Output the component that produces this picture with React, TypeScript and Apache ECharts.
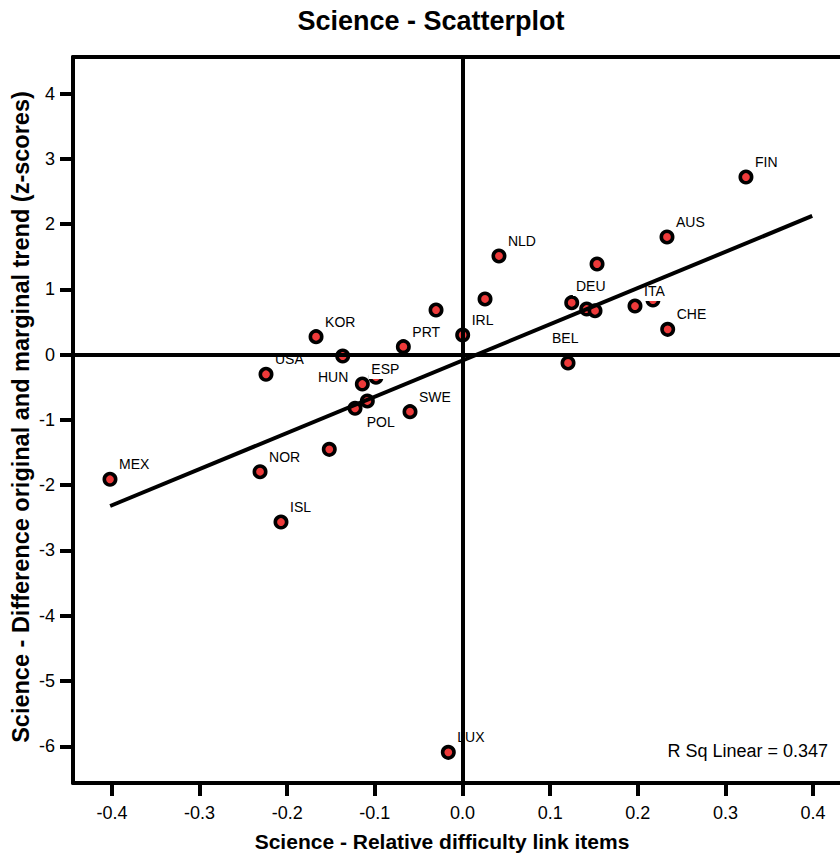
import React, { useEffect, useRef } from 'react';
import * as echarts from 'echarts';

// ---- data ----
const countries = ['FIN', 'AUS', 'NLD', '', 'DEU', '', '', 'ITA', '', 'CHE', 'BEL', '', 'IRL', '', 'PRT', 'KOR', 'HUN', 'USA', 'ESP', '', '', 'POL', 'SWE', '', 'MEX', 'NOR', 'ISL', 'LUX'];
const xValues = [0.3234, 0.2333, 0.0416, 0.1535, 0.1246, 0.1417, 0.1512, 0.1968, 0.2173, 0.2341, 0.1204, 0.0257, 0.0002, -0.0302, -0.0675, -0.1671, -0.1367, -0.2242, -0.1143, -0.0987, -0.1086, -0.1226, -0.0599, -0.152, -0.4022, -0.231, -0.2071, -0.0162];
const yValues = [2.723, 1.804, 1.513, 1.39, 0.797, 0.7, 0.674, 0.746, 0.838, 0.389, -0.127, 0.854, 0.302, 0.685, 0.123, 0.276, -0.02, -0.3, -0.449, -0.345, -0.709, -0.821, -0.873, -1.45, -1.909, -1.793, -2.564, -6.093];
const fitX = [-0.402, 0.399];
const fitY = [-2.318, 2.126];
const xTicks = [-0.4, -0.3, -0.2, -0.1, 0, 0.1, 0.2, 0.3, 0.4];
const yTicks = [-6, -5, -4, -3, -2, -1, 0, 1, 2, 3, 4];
const rSquared = 0.347;
const titleText = 'Science - Scatterplot';
const xTitle = 'Science - Relative difficulty link items';
const yTitle = 'Science - Difference original and marginal trend (z-scores)';

// label placement (styling), default upper-right of marker
const defaultOffset: [number, number] = [9, -15];
const labelOffsets: Record<string, [number, number]> = {
  HUN: [-24.7, 21],
  POL: [11.7, 14],
  BEL: [-16, -25],
  DEU: [4.3, -16.7],
};
const LABEL_PAD = 3;

const FONT = '"Liberation Sans", Arial, Helvetica, sans-serif';
const X_MIN = -0.4444;
const X_MAX = 0.4307;
const Y_MIN = -6.563;
const Y_MAX = 4.562;

export default function App() {
  const ref = useRef<HTMLDivElement>(null);
  useEffect(() => {
    if (!ref.current) return;
    const chart = echarts.init(ref.current, undefined, { renderer: 'svg' });
    const points = xValues.map((x, i) => [x, yValues[i]]);
    const labelIdx = countries.map((n, i) => i).filter((i) => countries[i] !== '');
    const labelData = labelIdx.map((i) => ({ name: countries[i], value: [xValues[i], yValues[i]] }));

    chart.setOption({
      animation: false,
      textStyle: { fontFamily: FONT },
      grid: { left: 73, top: 57, right: 0, bottom: 73, show: false },
      xAxis: [
        {
          type: 'value',
          min: X_MIN,
          max: X_MAX,
          splitLine: { show: false },
          axisLine: { onZero: false, lineStyle: { color: '#000', width: 4 } },
          axisTick: { customValues: xTicks, length: 13, lineStyle: { color: '#000', width: 4 } },
          axisLabel: {
            customValues: xTicks,
            formatter: (v: number) => v.toFixed(1),
            color: '#000',
            fontSize: 18,
            fontFamily: FONT,
            margin: 21,
          },
        },
        {
          type: 'value',
          position: 'top',
          min: X_MIN,
          max: X_MAX,
          splitLine: { show: false },
          axisLine: { onZero: false, lineStyle: { color: '#000', width: 4 } },
          axisTick: { show: false },
          axisLabel: { show: false },
        },
      ],
      yAxis: {
        type: 'value',
        min: Y_MIN,
        max: Y_MAX,
        splitLine: { show: false },
        axisLine: { onZero: false, lineStyle: { color: '#000', width: 4 } },
        axisTick: { customValues: yTicks, length: 13, lineStyle: { color: '#000', width: 4 } },
        axisLabel: {
          customValues: yTicks,
          formatter: (v: number) => String(Math.round(v)),
          color: '#000',
          fontSize: 18,
          fontFamily: FONT,
          margin: 18,
        },
      },
      graphic: [
        {
          type: 'text',
          x: 431,
          y: 21,
          style: {
            text: titleText,
            font: `bold 27px ${FONT}`,
            fill: '#000',
            textAlign: 'center',
            textVerticalAlign: 'middle',
          },
        },
        {
          type: 'text',
          x: 442,
          y: 841,
          style: {
            text: xTitle,
            font: `bold 21px ${FONT}`,
            fill: '#000',
            textAlign: 'center',
            textVerticalAlign: 'middle',
          },
        },
        {
          type: 'text',
          x: 21,
          y: 417,
          rotation: Math.PI / 2,
          style: {
            text: yTitle,
            font: `bold 23.5px ${FONT}`,
            fill: '#000',
            textAlign: 'center',
            textVerticalAlign: 'middle',
          },
        },
        {
          type: 'text',
          x: 828,
          y: 751,
          style: {
            text: `R Sq Linear = ${rSquared.toFixed(3)}`,
            font: `18px ${FONT}`,
            fill: '#000',
            textAlign: 'right',
            textVerticalAlign: 'middle',
          },
        },
      ],
      series: [
        {
          type: 'scatter',
          z: 2,
          silent: true,
          data: points,
          symbol: 'circle',
          symbolSize: 11.4,
          itemStyle: { color: '#ee3a3a', borderColor: '#000', borderWidth: 3.6, opacity: 1 },
        },
        {
          type: 'custom',
          z: 3,
          silent: true,
          data: labelData,
          encode: { x: 0, y: 1 },
          renderItem: (params: any, api: any) => {
            const name = labelData[params.dataIndex].name;
            const off = labelOffsets[name] || defaultOffset;
            const p = api.coord([api.value(0), api.value(1)]);
            return {
              type: 'text',
              x: p[0] + off[0] - LABEL_PAD,
              y: p[1] + off[1],
              style: {
                text: name,
                fill: '#000',
                font: `14px ${FONT}`,
                align: 'left',
                verticalAlign: 'middle',
                backgroundColor: '#fff',
                padding: [LABEL_PAD, LABEL_PAD],
              },
            };
          },
        },
        {
          type: 'line',
          z: 4,
          silent: true,
          data: fitX.map((x, i) => [x, fitY[i]]),
          symbol: 'none',
          lineStyle: { color: '#000', width: 4 },
          markLine: {
            silent: true,
            symbol: 'none',
            label: { show: false },
            lineStyle: { color: '#000', width: 4, type: 'solid' },
            data: [{ xAxis: 0 }, { yAxis: 0 }],
          },
        },
      ],
    });
    return () => chart.dispose();
  }, []);
  return (
    <div
      ref={ref}
      style={{ position: 'absolute', left: 0, top: 0, width: 840, height: 856, background: '#fff' }}
    />
  );
}
